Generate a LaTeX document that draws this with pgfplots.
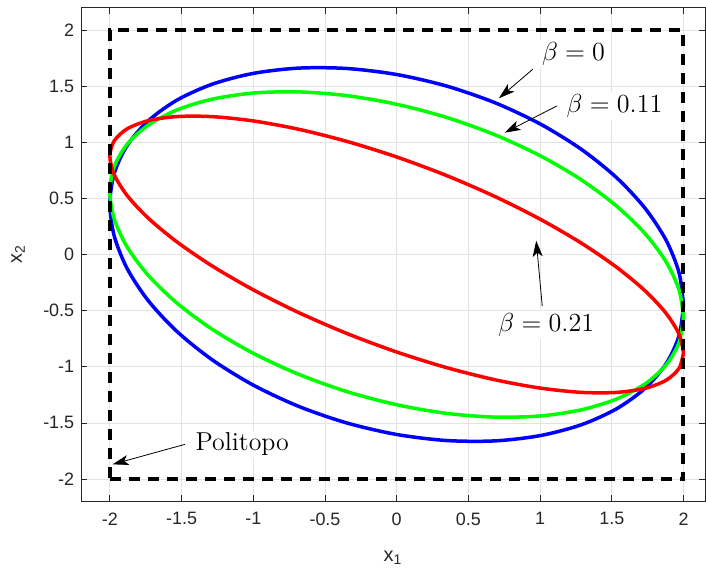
\documentclass[border=0pt]{standalone}
\usepackage{fontspec}
\usepackage{pgfplots}
\pgfplotsset{compat=1.18}
\usetikzlibrary{arrows.meta}
\newfontfamily\arial{Liberation Sans}
\begin{document}
\begin{tikzpicture}
\begin{axis}[
  scale only axis, width=311.9bp, height=247bp,
  xmin=-2.2, xmax=2.15, ymin=-2.2, ymax=2.2,
  xtick={-2,-1.5,-1,-0.5,0,0.5,1,1.5,2},
  ytick={-2,-1.5,-1,-0.5,0,0.5,1,1.5,2},
  xticklabels={-2,-1.5,-1,-0.5,0,0.5,1,1.5,2},
  yticklabels={-2,-1.5,-1,-0.5,0,0.5,1,1.5,2},
  grid=major, grid style={color=black!11, line width=0.4bp},
  tick align=inside, major tick length=3bp,
  axis line style={color=black!85, line width=0.4bp},
  tick style={color=black!85, line width=0.4bp},
  ticklabel style={font=\arial\fontsize{9}{10}\selectfont, color=black!85},
  xticklabel style={yshift=-2bp},
  xlabel={\arial\fontsize{10}{12}\selectfont x\textsubscript{1}},
  ylabel={\arial\fontsize{10}{12}\selectfont x\textsubscript{2}},
  xlabel style={at={(axis description cs:0.5,-0.1143)}, anchor=center, color=black!85},
  ylabel style={at={(axis description cs:-0.1013,0.5)}, anchor=center, color=black!85},
]
\addplot[blue, line width=1.75bp, smooth] coordinates {
(2,-0.45) (1.9696,-0.1648) (1.8794,0.1254) (1.7321,0.4118) (1.5321,0.6857)
(1.2856,0.9387) (1,1.1632) (0.6840,1.3524) (0.3473,1.5006) (0,1.6030)
(-0.3473,1.6568) (-0.6840,1.6602) (-1,1.6132) (-1.2856,1.5173) (-1.5321,1.3751)
(-1.7321,1.1912) (-1.8794,0.9712) (-1.9696,0.7216) (-2,0.45) (-1.9696,0.1648)
(-1.8794,-0.1254) (-1.7321,-0.4118) (-1.5321,-0.6857) (-1.2856,-0.9387) (-1,-1.1632)
(-0.6840,-1.3524) (-0.3473,-1.5006) (0,-1.6030) (0.3473,-1.6568) (0.6840,-1.6602)
(1,-1.6132) (1.2856,-1.5173) (1.5321,-1.3751) (1.7321,-1.1912) (1.8794,-0.9712)
(1.9696,-0.7216) (2,-0.45)};
\addplot[color={rgb,1:red,0;green,1;blue,0}, line width=1.75bp, smooth] coordinates {
(2,-0.558) (1.9696,-0.3171) (1.8794,-0.0667) (1.7321,0.1860) (1.5321,0.4327)
(1.2856,0.6665) (1,0.8800) (0.6840,1.0668) (0.3473,1.2211) (0,1.3383)
(-0.3473,1.4149) (-0.6840,1.4484) (-1,1.4380) (-1.2856,1.3839) (-1.5321,1.2877)
(-1.7321,1.1524) (-1.8794,0.9821) (-1.9696,0.7819) (-2,0.558) (-1.9696,0.3171)
(-1.8794,0.0667) (-1.7321,-0.1860) (-1.5321,-0.4327) (-1.2856,-0.6665) (-1,-0.8800)
(-0.6840,-1.0668) (-0.3473,-1.2211) (0,-1.3383) (0.3473,-1.4149) (0.6840,-1.4484)
(1,-1.4380) (1.2856,-1.3839) (1.5321,-1.2877) (1.7321,-1.1524) (1.8794,-0.9821)
(1.9696,-0.7819) (2,-0.558)};
\addplot[red, line width=1.75bp, smooth] coordinates {
(2,-0.875) (1.9696,-0.7109) (1.8794,-0.5251) (1.7321,-0.3235) (1.5321,-0.1120)
(1.2856,0.1030) (1,0.3147) (0.6840,0.5169) (0.3473,0.7035) (0,0.8686)
(-0.3473,1.0073) (-0.6840,1.1155) (-1,1.1897) (-1.2856,1.2278) (-1.5321,1.2286)
(-1.7321,1.1921) (-1.8794,1.1193) (-1.9696,1.0125) (-2,0.875) (-1.9696,0.7109)
(-1.8794,0.5251) (-1.7321,0.3235) (-1.5321,0.1120) (-1.2856,-0.1030) (-1,-0.3147)
(-0.6840,-0.5169) (-0.3473,-0.7035) (0,-0.8686) (0.3473,-1.0073) (0.6840,-1.1155)
(1,-1.1897) (1.2856,-1.2278) (1.5321,-1.2286) (1.7321,-1.1921) (1.8794,-1.1193)
(1.9696,-1.0125) (2,-0.875)};
\addplot[black, line width=2bp, dash pattern=on 5.5bp off 4bp] coordinates {
(-2,-2) (2,-2) (2,2) (-2,2) (-2,-2)};
\draw[-{Stealth[length=8bp,width=5bp,inset=2bp]}, line width=0.4bp] (axis cs:0.949,1.650) -- (axis cs:0.713,1.392);
\draw[-{Stealth[length=8bp,width=5bp,inset=2bp]}, line width=0.4bp] (axis cs:1.117,1.323) -- (axis cs:0.753,1.085);
\draw[-{Stealth[length=8bp,width=5bp,inset=2bp]}, line width=0.4bp] (axis cs:1.015,-0.459) -- (axis cs:0.973,0.123);
\draw[-{Stealth[length=8bp,width=5bp,inset=2bp]}, line width=0.4bp] (axis cs:-1.477,-1.691) -- (axis cs:-1.981,-1.869);
\node[fill=white, inner sep=1bp, scale=1.09, font=\fontsize{12}{14}\selectfont] at (axis cs:1.233,1.786) {$\beta=0$};
\node[fill=white, inner sep=1bp, scale=1.09, font=\fontsize{12}{14}\selectfont] at (axis cs:1.519,1.325) {$\beta=0.11$};
\node[fill=white, inner sep=1bp, scale=1.09, font=\fontsize{12}{14}\selectfont] at (axis cs:1.043,-0.628) {$\beta=0.21$};
\node[fill=white, inner sep=1bp, font=\fontsize{13}{15}\selectfont] at (axis cs:-1.077,-1.688) {Politopo};
\end{axis}
\pgfresetboundingbox
\path[use as bounding box] ([xshift=-40.6bp,yshift=-34.25bp]current axis.south west) rectangle ([xshift=0.5bp,yshift=3.75bp]current axis.north east);
\end{tikzpicture}
\end{document}
